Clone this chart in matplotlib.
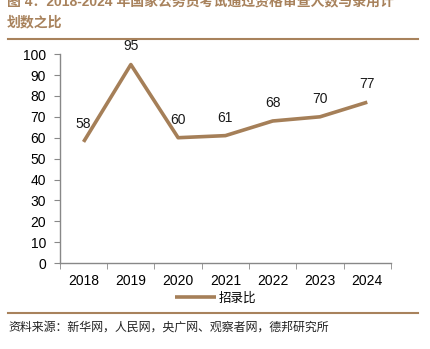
import matplotlib
matplotlib.use("Agg")
import matplotlib.pyplot as plt
import numpy as np

plt.rcParams['font.family'] = ['Liberation Sans', 'Noto Sans CJK SC', 'DejaVu Sans']

years = ['2018', '2019', '2020', '2021', '2022', '2023', '2024']
ratio = [58, 95, 60, 61, 68, 70, 77]
series_name = '招录比'
title_l1 = '图 4：2018-2024 年国家公务员考试通过资格审查人数与录用计'
title_l2 = '划数之比'
source = '资料来源：新华网，人民网，央广网、观察者网，德邦研究所'

color = '#A57F58'
title_color = '#A8825C'

fig = plt.figure(figsize=(4.31, 3.49), dpi=100)
ax = fig.add_axes([0.139, 0.246, 0.768, 0.599])
x = np.arange(len(years))
ax.plot(x, ratio, color=color, lw=2.6, solid_capstyle='butt', label=series_name)
for xi, v in zip(x, ratio):
    ax.annotate(str(v), (xi, v), xytext=(0, 8), textcoords='offset points',
                ha='center', va='bottom', fontsize=10, color='#1a1a1a')
ax.set_xlim(-0.5, len(years) - 0.5)
ax.set_ylim(0, 100)
ax.set_yticks(np.arange(0, 101, 10))
ax.set_xticks(x)
ax.set_xticklabels(years)
ax.set_xticks(np.arange(-0.5, len(years), 1), minor=True)
ax.tick_params(axis='x', which='major', length=0, pad=8, labelsize=10)
ax.tick_params(axis='x', which='minor', length=4, color='#888888')
ax.tick_params(axis='y', length=4, color='#888888', labelsize=10, pad=6)
for s in ['top', 'right']:
    ax.spines[s].set_visible(False)
for s in ['left', 'bottom']:
    ax.spines[s].set_color('#888888')
    ax.spines[s].set_linewidth(1)

leg = fig.legend(loc='center', bbox_to_anchor=(0.5, 0.146), frameon=False,
                 prop={'family': ['Noto Sans CJK SC'], 'size': 9},
                 handlelength=3.3, handletextpad=0.2)

fig.text(0.016, 0.995, title_l1, ha='left', va='center', fontsize=10,
         fontweight='bold', color=title_color, family=['Liberation Sans', 'Noto Sans CJK SC'])
fig.text(0.016, 0.935, title_l2, ha='left', va='center', fontsize=10,
         fontweight='bold', color=title_color, family=['Noto Sans CJK SC'])
fig.add_artist(plt.Line2D([0.019, 0.97], [0.888, 0.888], color=title_color, lw=1.5))
fig.add_artist(plt.Line2D([0.019, 0.97], [0.103, 0.103], color=title_color, lw=1.5))
fig.text(0.019, 0.062, source, ha='left', va='center', fontsize=8.6,
         color='#222222', family=['Noto Sans CJK SC'])

fig.savefig('out.png', dpi=100)
